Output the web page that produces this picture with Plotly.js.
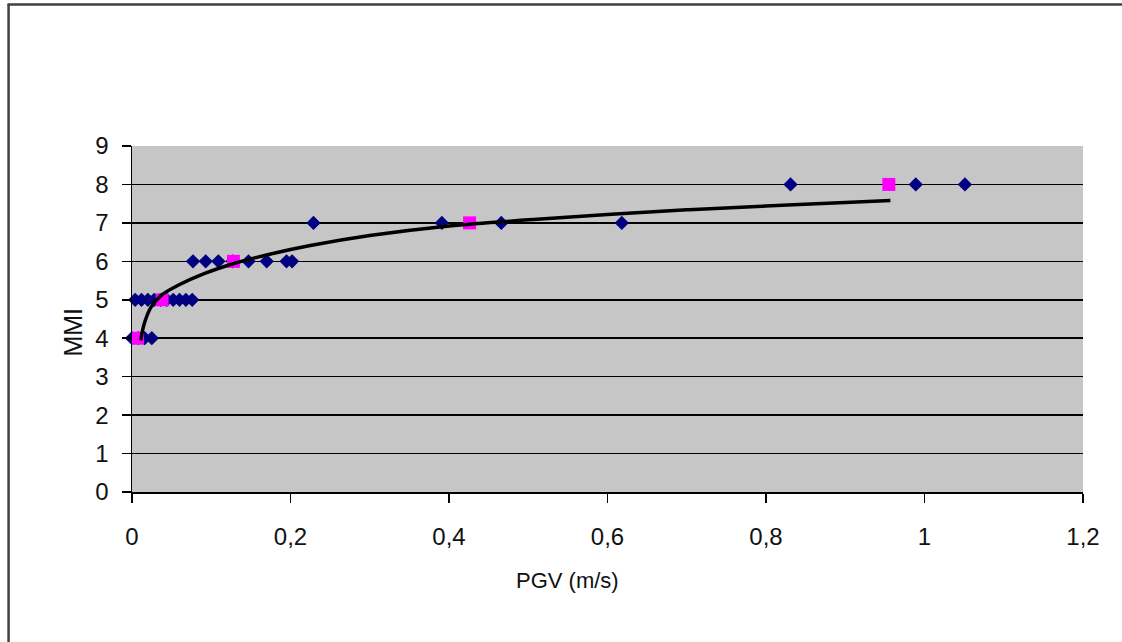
<!DOCTYPE html>
<html>
<head>
<meta charset="utf-8">
<script src="https://cdn.plot.ly/plotly-3.0.1.min.js"></script>
<style>html,body{margin:0;padding:0;background:#fff;}#chart{width:1122px;height:642px;}</style>
</head>
<body>
<div id="chart"></div>
<script>
// Observed data (blue diamonds)
const obsPGV = [0, 0.008, 0.016, 0.025,
  0.004, 0.012, 0.02, 0.028, 0.036, 0.044, 0.052, 0.06, 0.068, 0.076,
  0.077, 0.093, 0.109, 0.127, 0.147, 0.17, 0.195, 0.202,
  0.229, 0.391, 0.466, 0.618,
  0.831, 0.989, 1.051];
const obsMMI = [4, 4, 4, 4,
  5, 5, 5, 5, 5, 5, 5, 5, 5, 5,
  6, 6, 6, 6, 6, 6, 6, 6,
  7, 7, 7, 7,
  8, 8, 8];
// Mean values (magenta squares)
const meanPGV = [0.007, 0.038, 0.128, 0.426, 0.955];
const meanMMI = [4, 5, 6, 7, 8];
// Trend curve
const fitPGV = [0.011, 0.0155, 0.024, 0.0365, 0.0575, 0.091, 0.133, 0.175, 0.225, 0.3, 0.4, 0.5, 0.6, 0.7, 0.8, 0.9, 0.957];
const fitMMI = [3.94, 4.38, 4.81, 5.11, 5.37, 5.68, 5.97, 6.19, 6.41, 6.67, 6.92, 7.08, 7.22, 7.34, 7.44, 7.53, 7.58];

const xTicks = [0, 0.2, 0.4, 0.6, 0.8, 1, 1.2];
const yTicks = [0, 1, 2, 3, 4, 5, 6, 7, 8, 9];

const FONT = 'Liberation Sans, Arial, sans-serif';

const traces = [
  {x: obsPGV, y: obsMMI, type: 'scatter', mode: 'markers', name: 'Observed',
   marker: {symbol: 'diamond', size: 11, color: '#000080', line: {width: 0}}, cliponaxis: false},
  {x: meanPGV, y: meanMMI, type: 'scatter', mode: 'markers', name: 'Mean',
   marker: {symbol: 'square', size: 13, color: '#ff00ff', line: {width: 0}}, cliponaxis: false},
  {x: fitPGV, y: fitMMI, type: 'scatter', mode: 'lines', name: 'Trend',
   line: {color: '#000000', width: 3.5, shape: 'spline'}}
];

const L = 131.5, R = 39, T = 146, B = 150;
const W = 1122, H = 642;
const pw = W - L - R, ph = H - T - B;
const px = v => (v - L) / pw;
const py = v => (H - B - v) / ph;

const layout = {
  width: W, height: H,
  margin: {l: L, r: R, t: T, b: B, pad: 0},
  paper_bgcolor: '#ffffff',
  plot_bgcolor: '#c6c6c6',
  showlegend: false,
  separators: ', ',
  font: {family: FONT, color: '#111111', size: 24},
  xaxis: {
    range: [0, 1.2], tickvals: xTicks, tickformat: '.1~f',
    showgrid: false, zeroline: false,
    showline: true, linecolor: '#000', linewidth: 1.5,
    ticks: 'outside', ticklen: 9, tickwidth: 1.5, tickcolor: '#000',
    ticklabelstandoff: 14,
    tickfont: {family: FONT, size: 24, color: '#111'}
  },
  yaxis: {
    range: [0, 9], tickvals: yTicks,
    showgrid: true, gridcolor: '#000', gridwidth: 1.5, zeroline: false,
    showline: true, linecolor: '#000', linewidth: 1.5,
    ticks: 'outside', ticklen: 9, tickwidth: 1.5, tickcolor: '#000',
    ticklabelstandoff: 8,
    tickfont: {family: FONT, size: 24, color: '#111'}
  },
  annotations: [
    {text: 'PGV (m/s)', xref: 'paper', yref: 'paper', x: px(567), y: py(580),
     xanchor: 'center', yanchor: 'middle', showarrow: false,
     font: {family: FONT, size: 22, color: '#111'}},
    {text: 'MMI', xref: 'paper', yref: 'paper', x: px(72), y: py(332),
     xanchor: 'center', yanchor: 'middle', showarrow: false, textangle: -90,
     font: {family: FONT, size: 25, color: '#111'}}
  ],
  shapes: [
    {type: 'line', xref: 'paper', yref: 'paper', x0: px(8), x1: px(8), y0: py(4), y1: py(660),
     line: {color: '#404040', width: 2.5}},
    {type: 'line', xref: 'paper', yref: 'paper', x0: px(7), x1: px(1130), y0: py(4.5), y1: py(4.5),
     line: {color: '#404040', width: 2.5}}
  ]
};

Plotly.newPlot('chart', traces, layout, {displayModeBar: false, staticPlot: true});
</script>
</body>
</html>
